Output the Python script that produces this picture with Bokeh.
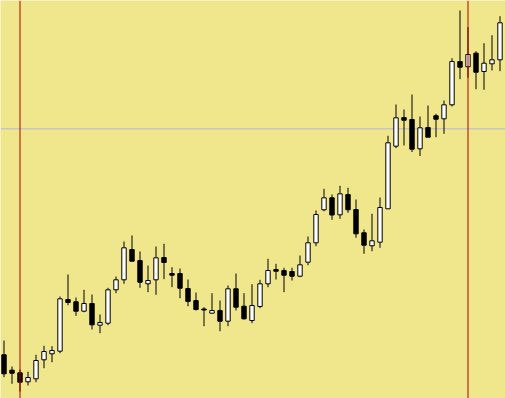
from bokeh.plotting import figure
from bokeh.models import Range1d, Span, ColumnDataSource
from bokeh.embed import file_html
from bokeh.resources import INLINE

# Candle data (arbitrary price units), index = bar number
opens  = [45.7, 30.3, 27.7, 18.7, 21.7, 40.7, 46.7, 49.3, 101, 98.7,
          89.3, 97, 75.3, 77.3, 110.7, 120.7, 151, 140, 116.7, 120.7,
          143, 127, 127, 112, 100, 91.5, 87.3, 90, 79.3, 111.7,
          94.3, 80, 94, 116.7, 131, 130, 129, 124.3, 138.3, 157.7,
          190.7, 202.7, 185.7, 206, 191, 167.7, 154.7, 158.3, 191.7, 254.3,
          283, 281, 251.7, 273, 284.7, 281.7, 295.7, 339, 333.7, 347.3,
          329, 336.7, 340.7]
highs  = [60, 34, 31, 28.7, 45.7, 54.7, 54.3, 104, 126, 103,
          110.7, 106, 86, 112.7, 124, 159, 165, 149, 135, 154,
          156.7, 133.3, 132, 121, 108, 93.3, 107.3, 100, 115, 127,
          107.3, 116.3, 120.7, 141.7, 136.7, 132.7, 132.7, 145, 164, 190,
          211.7, 206, 214.7, 212.7, 201, 171, 186.7, 203, 264.7, 296,
          291, 306, 284, 295, 286.7, 300, 342.3, 390, 373.3, 349.3,
          357.3, 365.3, 384.3]
lows   = [23.3, 16.7, 9, 15, 18.3, 32.3, 38.3, 47.3, 95.3, 84.7,
          88.3, 71, 67.3, 75.3, 107.3, 116.7, 139.3, 112.7, 108.3, 105.7,
          121.3, 113.3, 102.3, 94.3, 90, 74.3, 87.3, 69.3, 74.3, 90,
          81, 77.3, 92.3, 113.3, 121, 108.3, 120, 123.3, 135.3, 154.3,
          189.3, 180.7, 181.7, 187.7, 162.7, 146.7, 149.3, 152.7, 191.7, 252.3,
          255, 248.5, 244.5, 263.3, 263.3, 266.7, 294, 321.3, 322.7, 311.3,
          310.7, 330, 329.3]
closes = [26.7, 27.3, 18.3, 23, 40, 49, 50, 101.7, 98, 89.3,
          97, 75.7, 78, 110.7, 120.7, 152.7, 139.3, 118.3, 120, 142.7,
          138, 125.3, 112.3, 99, 91, 90.5, 90, 79.3, 111.7, 93.3,
          81.7, 95, 116.7, 130, 129.3, 125.3, 124.3, 135.7, 157.7, 186,
          202.7, 185.5, 206.7, 190.7, 166.7, 155.3, 159.7, 193, 257.7, 282.7,
          280.3, 251.3, 272.7, 263.3, 281.3, 295.7, 339, 333.3, 346, 328.3,
          337.3, 340.7, 377.7]

level_price = 271.7          # horizontal reference line
marker_bars = [2, 58]        # vertical marker lines

idx = list(range(len(opens)))
fills = ["white" if c > o else "black" for o, c in zip(opens, closes)]
tops = [max(o, c) for o, c in zip(opens, closes)]
bots = [min(o, c) for o, c in zip(opens, closes)]

src = ColumnDataSource(dict(x=idx, high=highs, low=lows, top=tops,
                            bottom=bots, fill=fills))

p = figure(width=505, height=398, output_backend="svg", toolbar_location=None,
           x_range=Range1d(-0.4375, 62.6875), y_range=Range1d(2, 400),
           min_border=0)
p.axis.visible = False
p.grid.visible = False
p.outline_line_color = None
p.background_fill_color = "#F0E68C"
p.border_fill_color = "#F0E68C"

p.add_layout(Span(location=level_price, dimension="width",
                  line_color="#b4b9d0", line_width=1, level="underlay"))

p.segment(x0="x", y0="high", x1="x", y1="low", source=src,
          line_color="black", line_width=1)
p.vbar(x="x", width=0.55, top="top", bottom="bottom", source=src,
       fill_color="fill", line_color="black", line_width=1)

for b in marker_bars:
    p.add_layout(Span(location=b, dimension="height", line_color="#b00000",
                      line_width=1, level="overlay"))

open("out.html", "w").write(file_html(p, INLINE))
